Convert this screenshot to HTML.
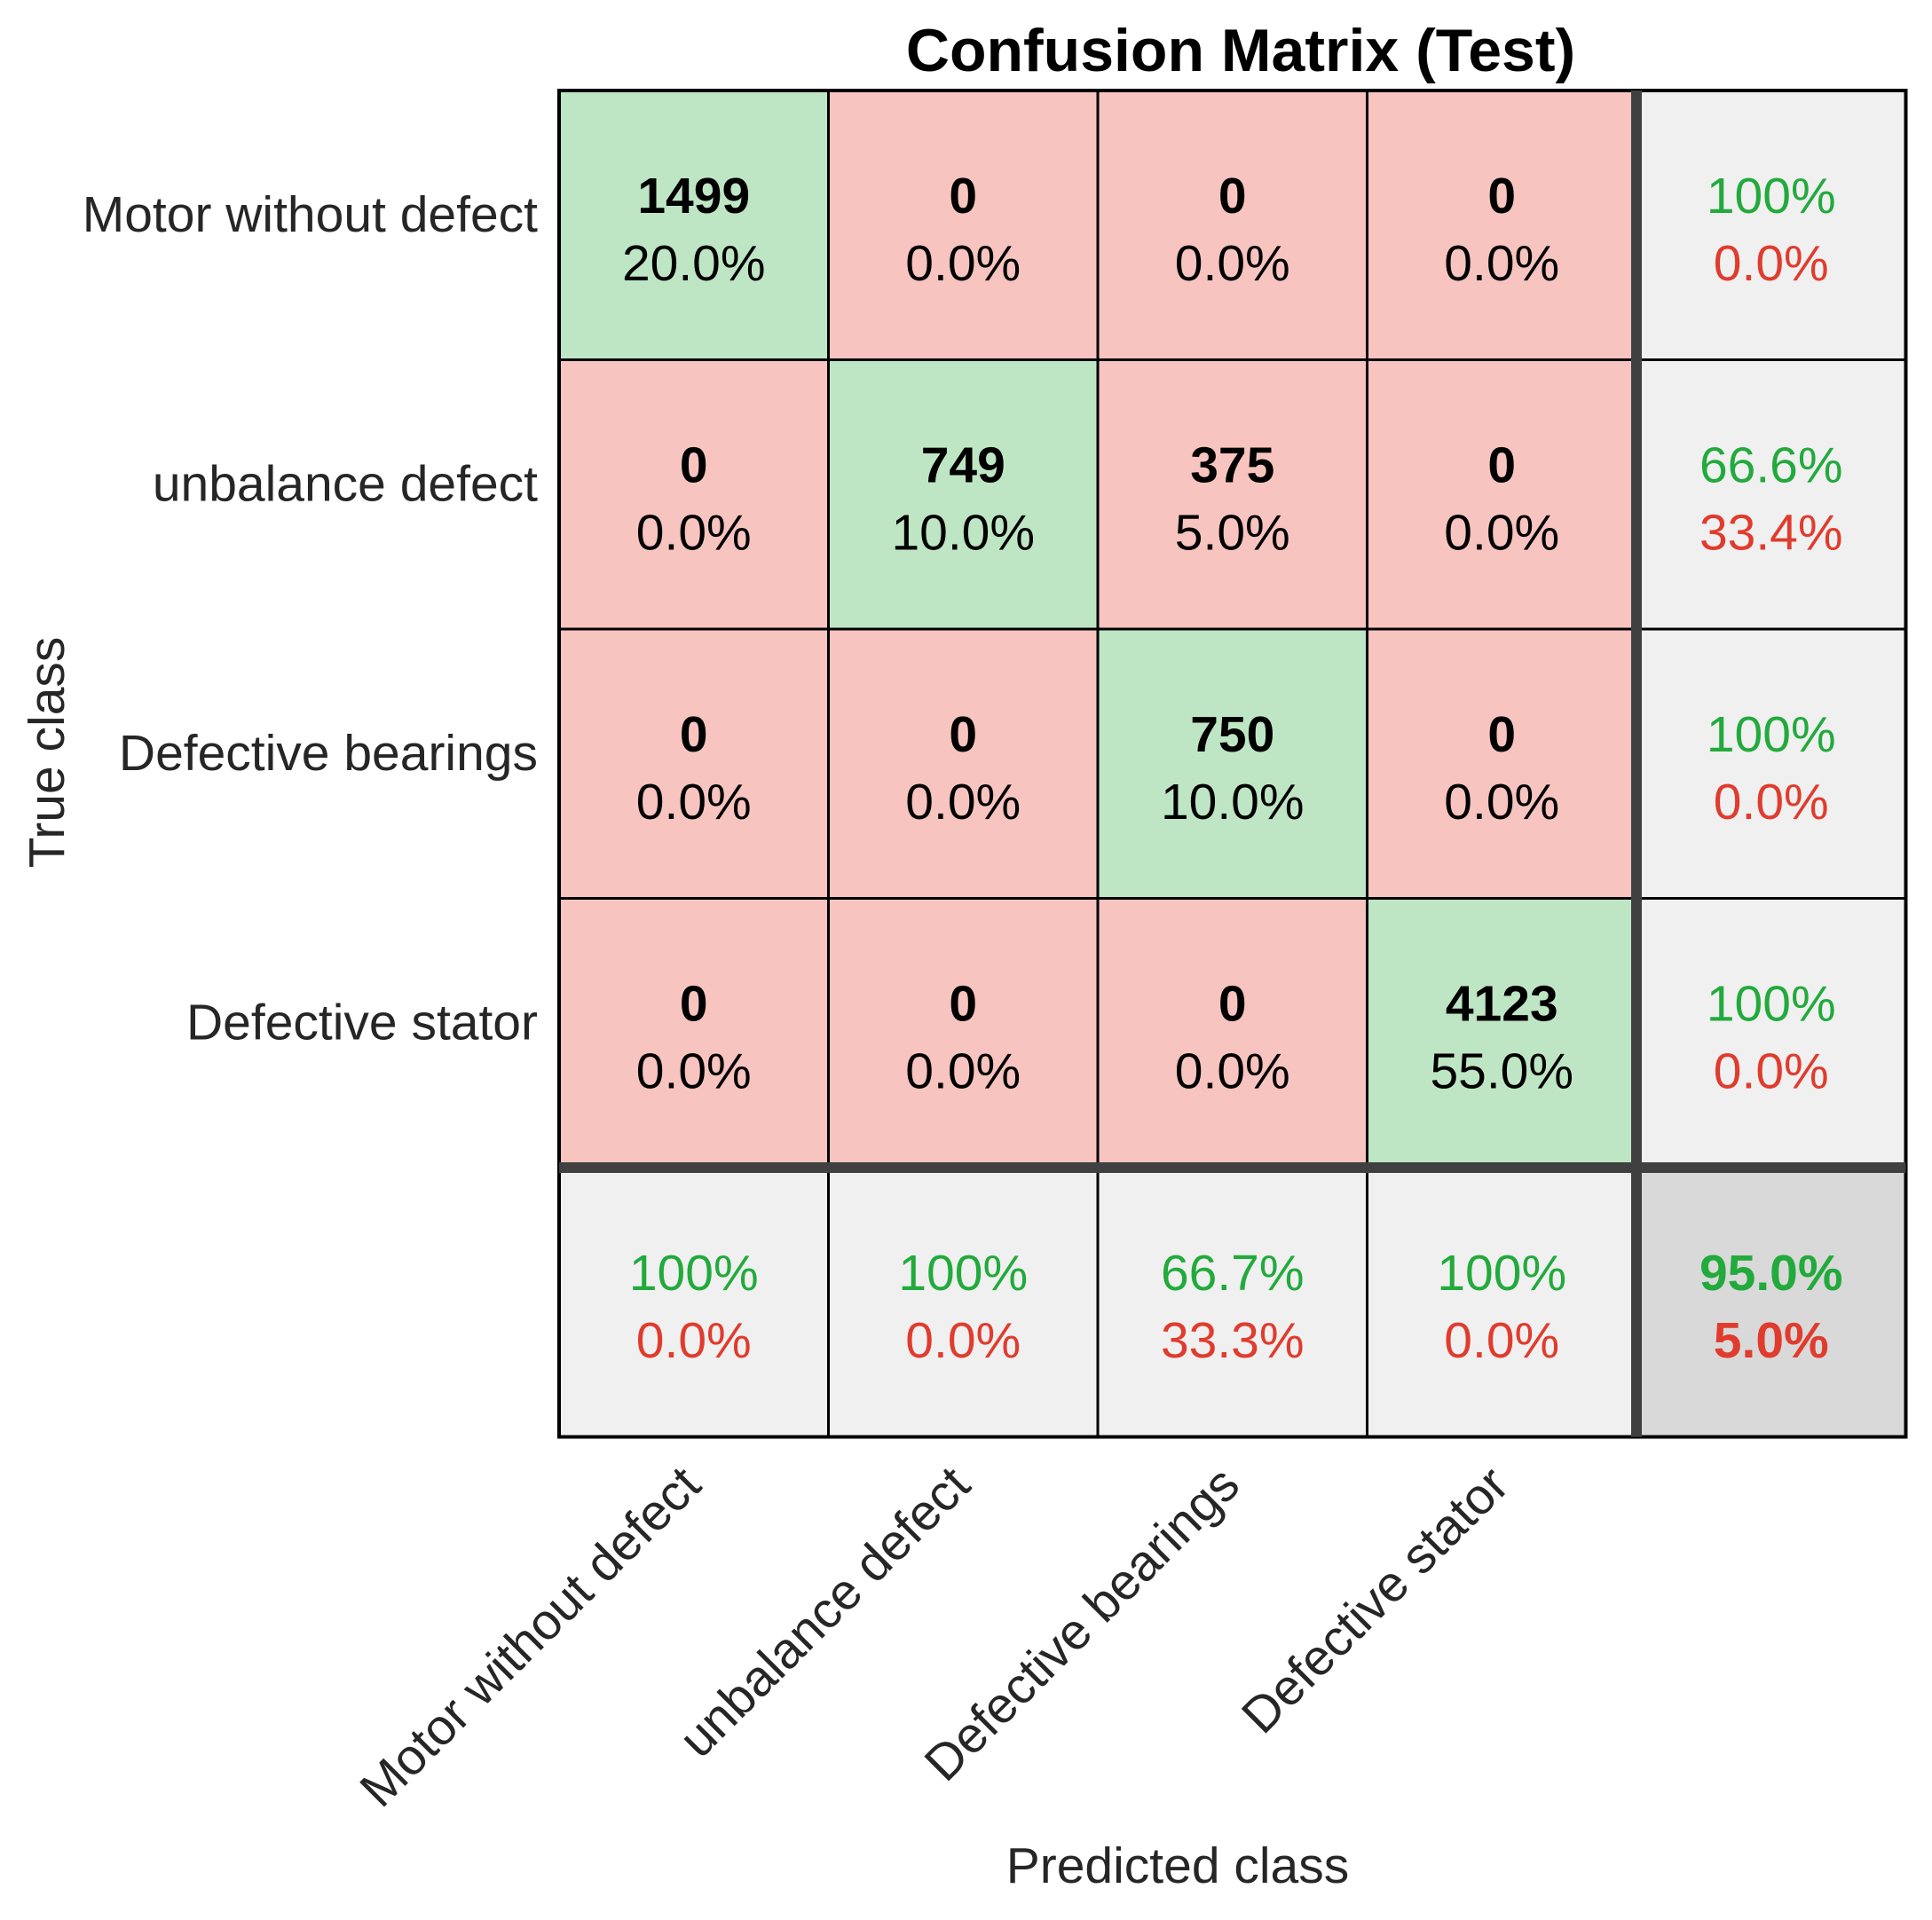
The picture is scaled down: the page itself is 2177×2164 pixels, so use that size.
<!DOCTYPE html>
<html><head><meta charset="utf-8"><style>
html,body{margin:0;padding:0;background:#fff;}
svg{display:block;font-family:"Liberation Sans",Arial,sans-serif;}
</style></head><body>
<svg id="chart" width="2177" height="2164" viewBox="0 0 2177 2164" xmlns="http://www.w3.org/2000/svg">
<text x="1398" y="80" text-anchor="middle" font-size="68" font-weight="bold" fill="#000">Confusion Matrix (Test)</text>
<g id="cells"></g>
<g id="lines"></g>
<g id="labels"></g>
<text transform="translate(72,848) rotate(-90)" text-anchor="middle" font-size="57" fill="#262626">True class</text>
<text x="1327" y="2122" text-anchor="middle" font-size="57" fill="#262626">Predicted class</text>
</svg>
<script>
const classes = ["Motor without defect","unbalance defect","Defective bearings","Defective stator"];
const counts = [[1499,0,0,0],[0,749,375,0],[0,0,750,0],[0,0,0,4123]];
const cellPct = [["20.0%","0.0%","0.0%","0.0%"],["0.0%","10.0%","5.0%","0.0%"],["0.0%","0.0%","10.0%","0.0%"],["0.0%","0.0%","0.0%","55.0%"]];
const rowGood = ["100%","66.6%","100%","100%"];
const rowBad = ["0.0%","33.4%","0.0%","0.0%"];
const colGood = ["100%","100%","66.7%","100%"];
const colBad = ["0.0%","0.0%","33.3%","0.0%"];
const totalGood = "95.0%";
const totalBad = "5.0%";

const NS="http://www.w3.org/2000/svg";
const L=630, T=102, C=303.5, N=classes.length;
const xPos = i => L + i*C;
const yPos = i => T + i*C;
function mk(tag, attrs, parent){const e=document.createElementNS(NS,tag);for(const k in attrs)e.setAttribute(k,attrs[k]);parent.appendChild(e);return e;}
const gc=document.getElementById('cells'), gl=document.getElementById('lines'), gb=document.getElementById('labels');
const GREEN="#22aa3c", RED="#e03c2e";
function txt(x,y,s,col,bold,parent,name){
  const t=mk('text',{x:x,y:y,'text-anchor':'middle','dominant-baseline':'central','font-size':57,fill:col,'font-weight':bold?'bold':'normal'},parent);
  t.textContent=s;
  
  
  return t;
}
for(let r=0;r<=N;r++){for(let c=0;c<=N;c++){
  let fill;
  if(r<N&&c<N) fill = r===c ? "#bfe6c4" : "#f7c4c0";
  else if(r===N&&c===N) fill="#d9d9d9"; else fill="#f0f0f0";
  const rect=mk('rect',{x:xPos(c),y:yPos(r),width:C,height:C,fill:fill},gc);
  
  
  const cx=xPos(c)+C/2, cy=yPos(r)+C/2;
  if(r<N&&c<N){
    txt(cx,cy-33,String(counts[r][c]),"#000",true,gc,'cell-count');
    txt(cx,cy+43,cellPct[r][c],"#000",false,gc,'cell-percent');
  } else if(r<N){
    txt(cx,cy-33,rowGood[r],GREEN,false,gc,'row-recall');
    txt(cx,cy+43,rowBad[r],RED,false,gc,'row-error');
  } else if(c<N){
    txt(cx,cy-33,colGood[c],GREEN,false,gc,'col-precision');
    txt(cx,cy+43,colBad[c],RED,false,gc,'col-error');
  } else {
    txt(cx,cy-33,totalGood,GREEN,true,gc,'total-accuracy');
    txt(cx,cy+43,totalBad,RED,true,gc,'total-error');
  }
}}
for(let i=1;i<N;i++){
  const a=mk('line',{x1:xPos(i),y1:T,x2:xPos(i),y2:yPos(N+1),stroke:"#000","stroke-width":3},gl);
  
  
  const b=mk('line',{x1:L,y1:yPos(i),x2:xPos(N+1),y2:yPos(i),stroke:"#000","stroke-width":3},gl);
  
  
}
const bd=mk('rect',{x:L,y:T,width:C*(N+1),height:C*(N+1),fill:"none",stroke:"#000","stroke-width":4},gl);


const tv=mk('line',{x1:xPos(N),y1:T,x2:xPos(N),y2:yPos(N+1),stroke:"#404040","stroke-width":12},gl);


const th=mk('line',{x1:L,y1:yPos(N),x2:xPos(N+1),y2:yPos(N),stroke:"#404040","stroke-width":12},gl);


classes.forEach((name,i)=>{
  const y=mk('text',{x:606,y:yPos(i)+C/2-12,'text-anchor':'end','dominant-baseline':'central','font-size':57,fill:"#262626"},gb);
  y.textContent=name;
  
  
  const ax=xPos(i)+C/2-18, ay=1648;
  const x=mk('text',{x:0,y:0,'text-anchor':'end','dominant-baseline':'hanging','font-size':57,fill:"#262626",transform:`translate(${ax},${ay}) rotate(-45)`},gb);
  x.textContent=name;
  
  
});
</script>
</body></html>
